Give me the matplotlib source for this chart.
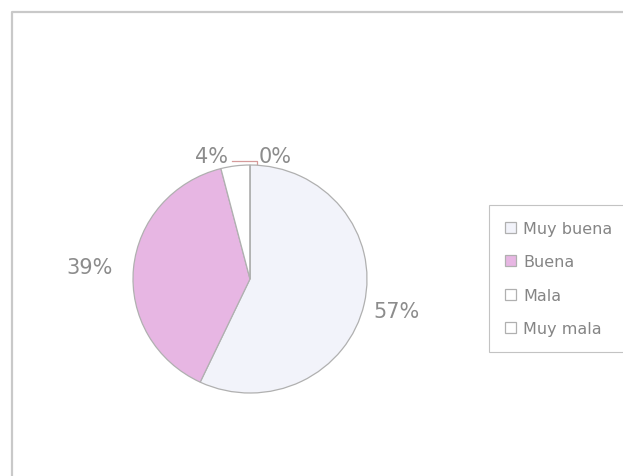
import matplotlib.pyplot as plt

# Calificación de la atención
categorias = ["Muy buena", "Buena", "Mala", "Muy mala"]
porcentajes = [57, 39, 4, 0]
colores = ["#f2f3fa", "#e7b6e3", "#ffffff", "#ffffff"]

plt.rcParams['font.family'] = 'DejaVu Sans'
W, H = 623, 477
fig = plt.figure(figsize=(W / 100, H / 100), dpi=100)

# Capa de fondo en píxeles para el marco del gráfico
bg = fig.add_axes([0, 0, 1, 1])
bg.set_xlim(0, W)
bg.set_ylim(H, 0)
bg.axis('off')
bg.plot([12, 12, W], [H, 13, 13], color='#c9c9c9', lw=1.6)

# Tarta: centro (250, 280) px, radios 117 x 114 px
cx, cy, rx, ry = 250, 280, 117, 114
ax = fig.add_axes([(cx - rx) / W, (H - cy - ry) / H, 2 * rx / W, 2 * ry / H])
wedges, textos = ax.pie(
    porcentajes,
    labels=[f"{p}%" for p in porcentajes],
    colors=colores,
    startangle=90,
    counterclock=False,
    wedgeprops=dict(edgecolor='#b0b0b0', linewidth=0.9),
    textprops=dict(fontsize=15, color='#8c8c8c'),
)
ax.set_aspect('auto')
ax.set_xlim(-1, 1)
ax.set_ylim(-1, 1)

# Posición de las etiquetas de porcentaje
pos_etiquetas = [(1.248, -0.281), (-1.368, 0.105), (-0.325, 1.079), (0.214, 1.079)]
for t, (x, y) in zip(textos, pos_etiquetas):
    t.set_position((x, y))
    t.set_ha('center')
    t.set_va('center')

# Línea guía entre las etiquetas superiores
bg.plot([232, 257, 257], [162, 162, 168], color='#d59a9a', lw=0.9)

# Leyenda: el recuadro continúa más allá del borde derecho
leg = fig.legend(
    wedges, categorias,
    loc='upper left',
    bbox_to_anchor=(489 / W, 1 - 206 / H, 160 / W, 0),
    mode='expand',
    fontsize=11.5,
    frameon=True,
    fancybox=False,
    edgecolor='#b5b5b5',
    handlelength=0.7,
    handleheight=0.7,
    handletextpad=0.45,
    labelspacing=1.15,
    borderpad=1.0,
    borderaxespad=0,
)
leg.get_frame().set_linewidth(0.8)
for t in leg.get_texts():
    t.set_color('#858585')

fig.savefig('out.png', dpi=100)
